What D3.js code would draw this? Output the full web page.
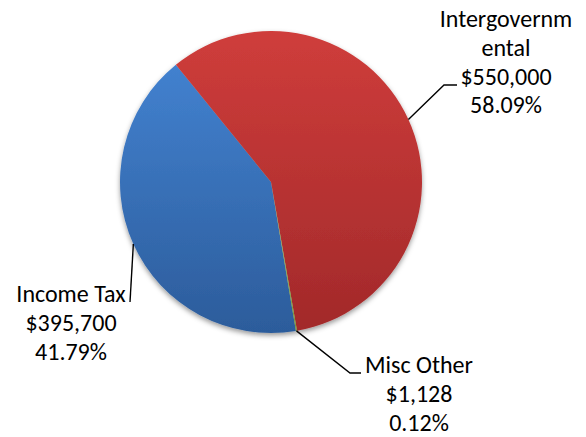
<!DOCTYPE html>
<html>
<head>
<meta charset="utf-8">
<script src="https://cdn.jsdelivr.net/npm/d3@7"></script>
<style>
  html, body { margin: 0; padding: 0; background: #ffffff; }
  svg { display: block; }
  text { font-family: Carlito, Calibri, Lato, "Open Sans", sans-serif; fill: #000; }
</style>
</head>
<body>
<svg id="chart" width="586" height="437"></svg>
<script>
// Revenue sources
const categories = ["Income Tax", "Intergovernmental", "Misc Other"];
const amounts = [395700, 550000, 1128];
const sliceTop = ["#4281cf", "#cf3d3b", "#a0bf5e"];
const sliceBottom = ["#2c5c9b", "#a2292a", "#76953a"];

const W = 586, H = 437;
const cx = 271, cy = 182, R = 151;
const startDeg = 170.5;

const svg = d3.select("#chart");
const defs = svg.append("defs");

const shadow = defs.append("filter").attr("id", "pieShadow")
  .attr("x", "-10%").attr("y", "-10%").attr("width", "120%").attr("height", "125%");
shadow.append("feDropShadow")
  .attr("dx", 0).attr("dy", 2.5).attr("stdDeviation", 2.5)
  .attr("flood-color", "#000").attr("flood-opacity", 0.4);

categories.forEach((c, i) => {
  const g = defs.append("linearGradient").attr("id", "grad" + i)
    .attr("x1", 0).attr("y1", 0).attr("x2", 0).attr("y2", 1);
  g.append("stop").attr("offset", "0%").attr("stop-color", sliceTop[i]);
  g.append("stop").attr("offset", "100%").attr("stop-color", sliceBottom[i]);
});

const total = d3.sum(amounts);
const rad = d => d * Math.PI / 180;

const pie = d3.pie().sort(null).value(d => d.value)
  .startAngle(rad(startDeg)).endAngle(rad(startDeg + 360));
const arcs = pie(categories.map((c, i) => ({ name: c, value: amounts[i], i })));

const arc = d3.arc().innerRadius(0).outerRadius(R);

const pieG = svg.append("g")
  .attr("transform", `translate(${cx},${cy})`)
  .attr("filter", "url(#pieShadow)");

pieG.selectAll("path.slice").data(arcs).join("path")
  .attr("class", "slice")
  .attr("d", arc)
  .attr("fill", d => `url(#grad${d.data.i})`);

// Label placement (text centre x, first baseline y, leader path bend points)
const labelLayout = {
  "Intergovernmental": { x: 506, y: 27, bend: [[444, 85], [457, 85]] },
  "Income Tax": { x: 71, y: 302, bend: [[130, 302]] },
  "Misc Other": { x: 419, y: 373, bend: [[350, 373], [361, 373]] }
};

const fmtMoney = d3.format("$,");
const fmtPct = d3.format(".2%");

// Break a category name into lines of at most 12 characters
function nameLines(name) {
  const lines = [];
  let cur = "";
  name.split(" ").forEach(word => {
    const cand = cur ? cur + " " + word : word;
    if (cand.length <= 12) { cur = cand; return; }
    if (cur) lines.push(cur);
    while (word.length > 12) { lines.push(word.slice(0, 12)); word = word.slice(12); }
    cur = word;
  });
  if (cur) lines.push(cur);
  return lines;
}

const lineH = 28.8;
const labelG = svg.append("g");

arcs.forEach(d => {
  const L = labelLayout[d.data.name];
  const mid = (d.startAngle + d.endAngle) / 2;
  const edge = [cx + R * Math.sin(mid), cy - R * Math.cos(mid)];
  const pts = [edge].concat(L.bend);
  labelG.append("path")
    .attr("d", d3.line()(pts))
    .attr("fill", "none")
    .attr("stroke", "#000")
    .attr("stroke-width", 1.4);

  const lines = nameLines(d.data.name)
    .concat([fmtMoney(d.data.value), fmtPct(d.data.value / total)]);
  const t = labelG.append("text")
    .attr("text-anchor", "middle")
    .attr("font-size", 24);
  lines.forEach((s, k) => {
    t.append("tspan").attr("x", L.x).attr("y", L.y + k * lineH).text(s);
  });
});
</script>
</body>
</html>
